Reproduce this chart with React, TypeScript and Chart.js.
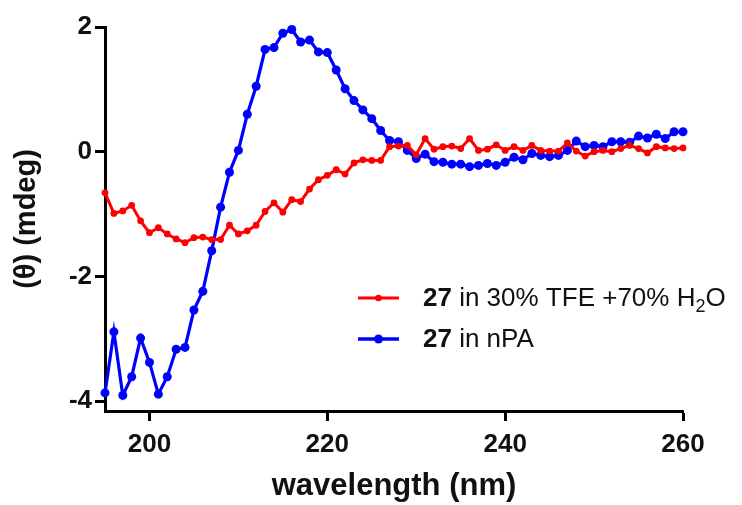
import React, { useEffect, useRef } from "react";
import { Chart, registerables } from "chart.js";

Chart.register(...registerables);

const wavelengths = [
  195, 196, 197, 198, 199, 200, 201, 202, 203, 204, 205, 206, 207, 208, 209, 210,
  211, 212, 213, 214, 215, 216, 217, 218, 219, 220, 221, 222, 223, 224, 225, 226,
  227, 228, 229, 230, 231, 232, 233, 234, 235, 236, 237, 238, 239, 240, 241, 242,
  243, 244, 245, 246, 247, 248, 249, 250, 251, 252, 253, 254, 255, 256, 257, 258,
  259, 260,
];

const tfeValues = [
  -0.66, -0.99, -0.95, -0.86, -1.11, -1.30, -1.22, -1.32, -1.40, -1.46, -1.38, -1.37,
  -1.41, -1.41, -1.18, -1.32, -1.27, -1.18, -0.96, -0.82, -0.97, -0.77, -0.80, -0.60,
  -0.45, -0.38, -0.29, -0.36, -0.18, -0.13, -0.14, -0.14, 0.08, 0.09, 0.10, -0.05,
  0.21, 0.04, 0.08, 0.09, 0.05, 0.21, 0.02, 0.04, 0.11, 0.02, 0.08, 0.02,
  0.10, 0.02, 0.01, 0.01, 0.14, 0.01, -0.07, 0.00, 0.02, 0.00, 0.05, 0.10,
  0.05, -0.02, 0.08, 0.06, 0.05, 0.06,
];

const npaValues = [
  -3.87, -2.89, -3.91, -3.61, -2.99, -3.38, -3.89, -3.61, -3.17, -3.14, -2.54, -2.24,
  -1.59, -0.89, -0.33, 0.02, 0.60, 1.05, 1.64, 1.67, 1.90, 1.96, 1.76, 1.79,
  1.60, 1.59, 1.31, 1.01, 0.82, 0.67, 0.53, 0.34, 0.18, 0.16, 0.02, -0.11,
  -0.04, -0.16, -0.17, -0.20, -0.20, -0.24, -0.22, -0.19, -0.22, -0.17, -0.09, -0.13,
  -0.03, -0.06, -0.08, -0.06, 0.02, 0.17, 0.08, 0.10, 0.08, 0.16, 0.16, 0.15,
  0.25, 0.22, 0.28, 0.21, 0.32, 0.32,
];

const xTicks = [200, 220, 240, 260];
const yTicks = [-4, -2, 0, 2];

const xTitle = "wavelength (nm)";
const yTitle = "(θ) (mdeg)";

const RED = "#ff0000";
const BLUE = "#0000ff";

type Part = { t: string; bold?: boolean; sub?: boolean };
const legendTfe: Part[] = [
  { t: "27", bold: true },
  { t: " in 30% TFE +70% H" },
  { t: "2", sub: true },
  { t: "O" },
];
const legendNpa: Part[] = [{ t: "27", bold: true }, { t: " in nPA" }];

const FONT = "'Liberation Sans', Arial, Helvetica, sans-serif";

const legendPlugin = {
  id: "customLegend",
  afterDraw(chart: any) {
    const ctx: CanvasRenderingContext2D = chart.ctx;
    ctx.save();
    const items = [
      { color: RED, lw: 3, r: 3.3, y: 298, parts: legendTfe },
      { color: BLUE, lw: 3.5, r: 4.5, y: 339, parts: legendNpa },
    ];
    const size = 26;
    for (const it of items) {
      ctx.strokeStyle = it.color;
      ctx.lineWidth = it.lw;
      ctx.beginPath();
      ctx.moveTo(358, it.y);
      ctx.lineTo(399, it.y);
      ctx.stroke();
      ctx.fillStyle = it.color;
      ctx.beginPath();
      ctx.arc(378.5, it.y, it.r, 0, Math.PI * 2);
      ctx.fill();
      let x = 423;
      const base = it.y + 8;
      ctx.fillStyle = "#111";
      ctx.textBaseline = "alphabetic";
      ctx.textAlign = "left";
      for (const p of it.parts) {
        const fs = p.sub ? 18 : size;
        ctx.font = `${p.bold ? "bold " : ""}${fs}px ${FONT}`;
        ctx.fillText(p.t, x, p.sub ? base + 6 : base);
        x += ctx.measureText(p.t).width;
      }
    }
    ctx.restore();
  },
};

export default function App() {
  const ref = useRef<HTMLCanvasElement | null>(null);

  useEffect(() => {
    if (!ref.current) return;
    const chart = new Chart(ref.current, {
      type: "line",
      data: {
        datasets: [
          {
            label: "27 in 30% TFE +70% H2O",
            data: wavelengths.map((x, i) => ({ x, y: tfeValues[i] })),
            borderColor: RED,
            backgroundColor: RED,
            borderWidth: 3,
            pointRadius: 3.4,
            pointBorderWidth: 0,
            pointBackgroundColor: RED,
            tension: 0,
            clip: false as any,
          },
          {
            label: "27 in nPA",
            data: wavelengths.map((x, i) => ({ x, y: npaValues[i] })),
            borderColor: BLUE,
            backgroundColor: BLUE,
            borderWidth: 3.2,
            pointRadius: 4.5,
            pointBorderWidth: 0,
            pointBackgroundColor: BLUE,
            tension: 0,
            clip: false as any,
          },
        ],
      },
      options: {
        animation: false,
        responsive: false,
        maintainAspectRatio: false,
        devicePixelRatio: 1,
        layout: { padding: { top: 27, right: 59, left: 0, bottom: 0 } },
        plugins: {
          legend: { display: false },
          tooltip: { enabled: false },
          title: { display: false },
        },
        scales: {
          x: {
            type: "linear",
            min: 195,
            max: 260,
            afterFit: (s: any) => {
              s.height = 94;
            },
            afterBuildTicks: (s: any) => {
              s.ticks = xTicks.map((v) => ({ value: v }));
            },
            border: { display: true, color: "#000", width: 3 },
            grid: {
              display: true,
              drawOnChartArea: false,
              drawTicks: true,
              tickLength: 10,
              tickWidth: 3,
              tickColor: "#000",
            },
            ticks: {
              color: "#111",
              padding: 8,
              maxRotation: 0,
              font: { family: FONT, size: 26, weight: "bold" },
            },
            title: {
              display: true,
              text: xTitle,
              color: "#111",
              padding: { top: 0, bottom: 0 },
              font: { family: FONT, size: 31, weight: "bold" },
            },
          },
          y: {
            type: "linear",
            min: -4.16,
            max: 2,
            afterFit: (s: any) => {
              s.width = 105;
            },
            afterBuildTicks: (s: any) => {
              s.ticks = yTicks.map((v) => ({ value: v }));
            },
            border: { display: true, color: "#000", width: 3 },
            grid: {
              display: true,
              drawOnChartArea: false,
              drawTicks: true,
              tickLength: 10,
              tickWidth: 3,
              tickColor: "#000",
            },
            ticks: {
              color: "#111",
              padding: 3,
              font: { family: FONT, size: 26, weight: "bold" },
            },
            title: {
              display: true,
              text: yTitle,
              color: "#111",
              padding: { top: 10, bottom: 0 },
              font: { family: FONT, size: 29, weight: "bold" },
            },
          },
        },
      },
      plugins: [legendPlugin],
    });
    return () => chart.destroy();
  }, []);

  return (
    <div style={{ position: "absolute", left: 0, top: 0, width: 742, height: 505, background: "#fff" }}>
      <canvas ref={ref} width={742} height={505} style={{ width: 742, height: 505, display: "block" }} />
    </div>
  );
}
